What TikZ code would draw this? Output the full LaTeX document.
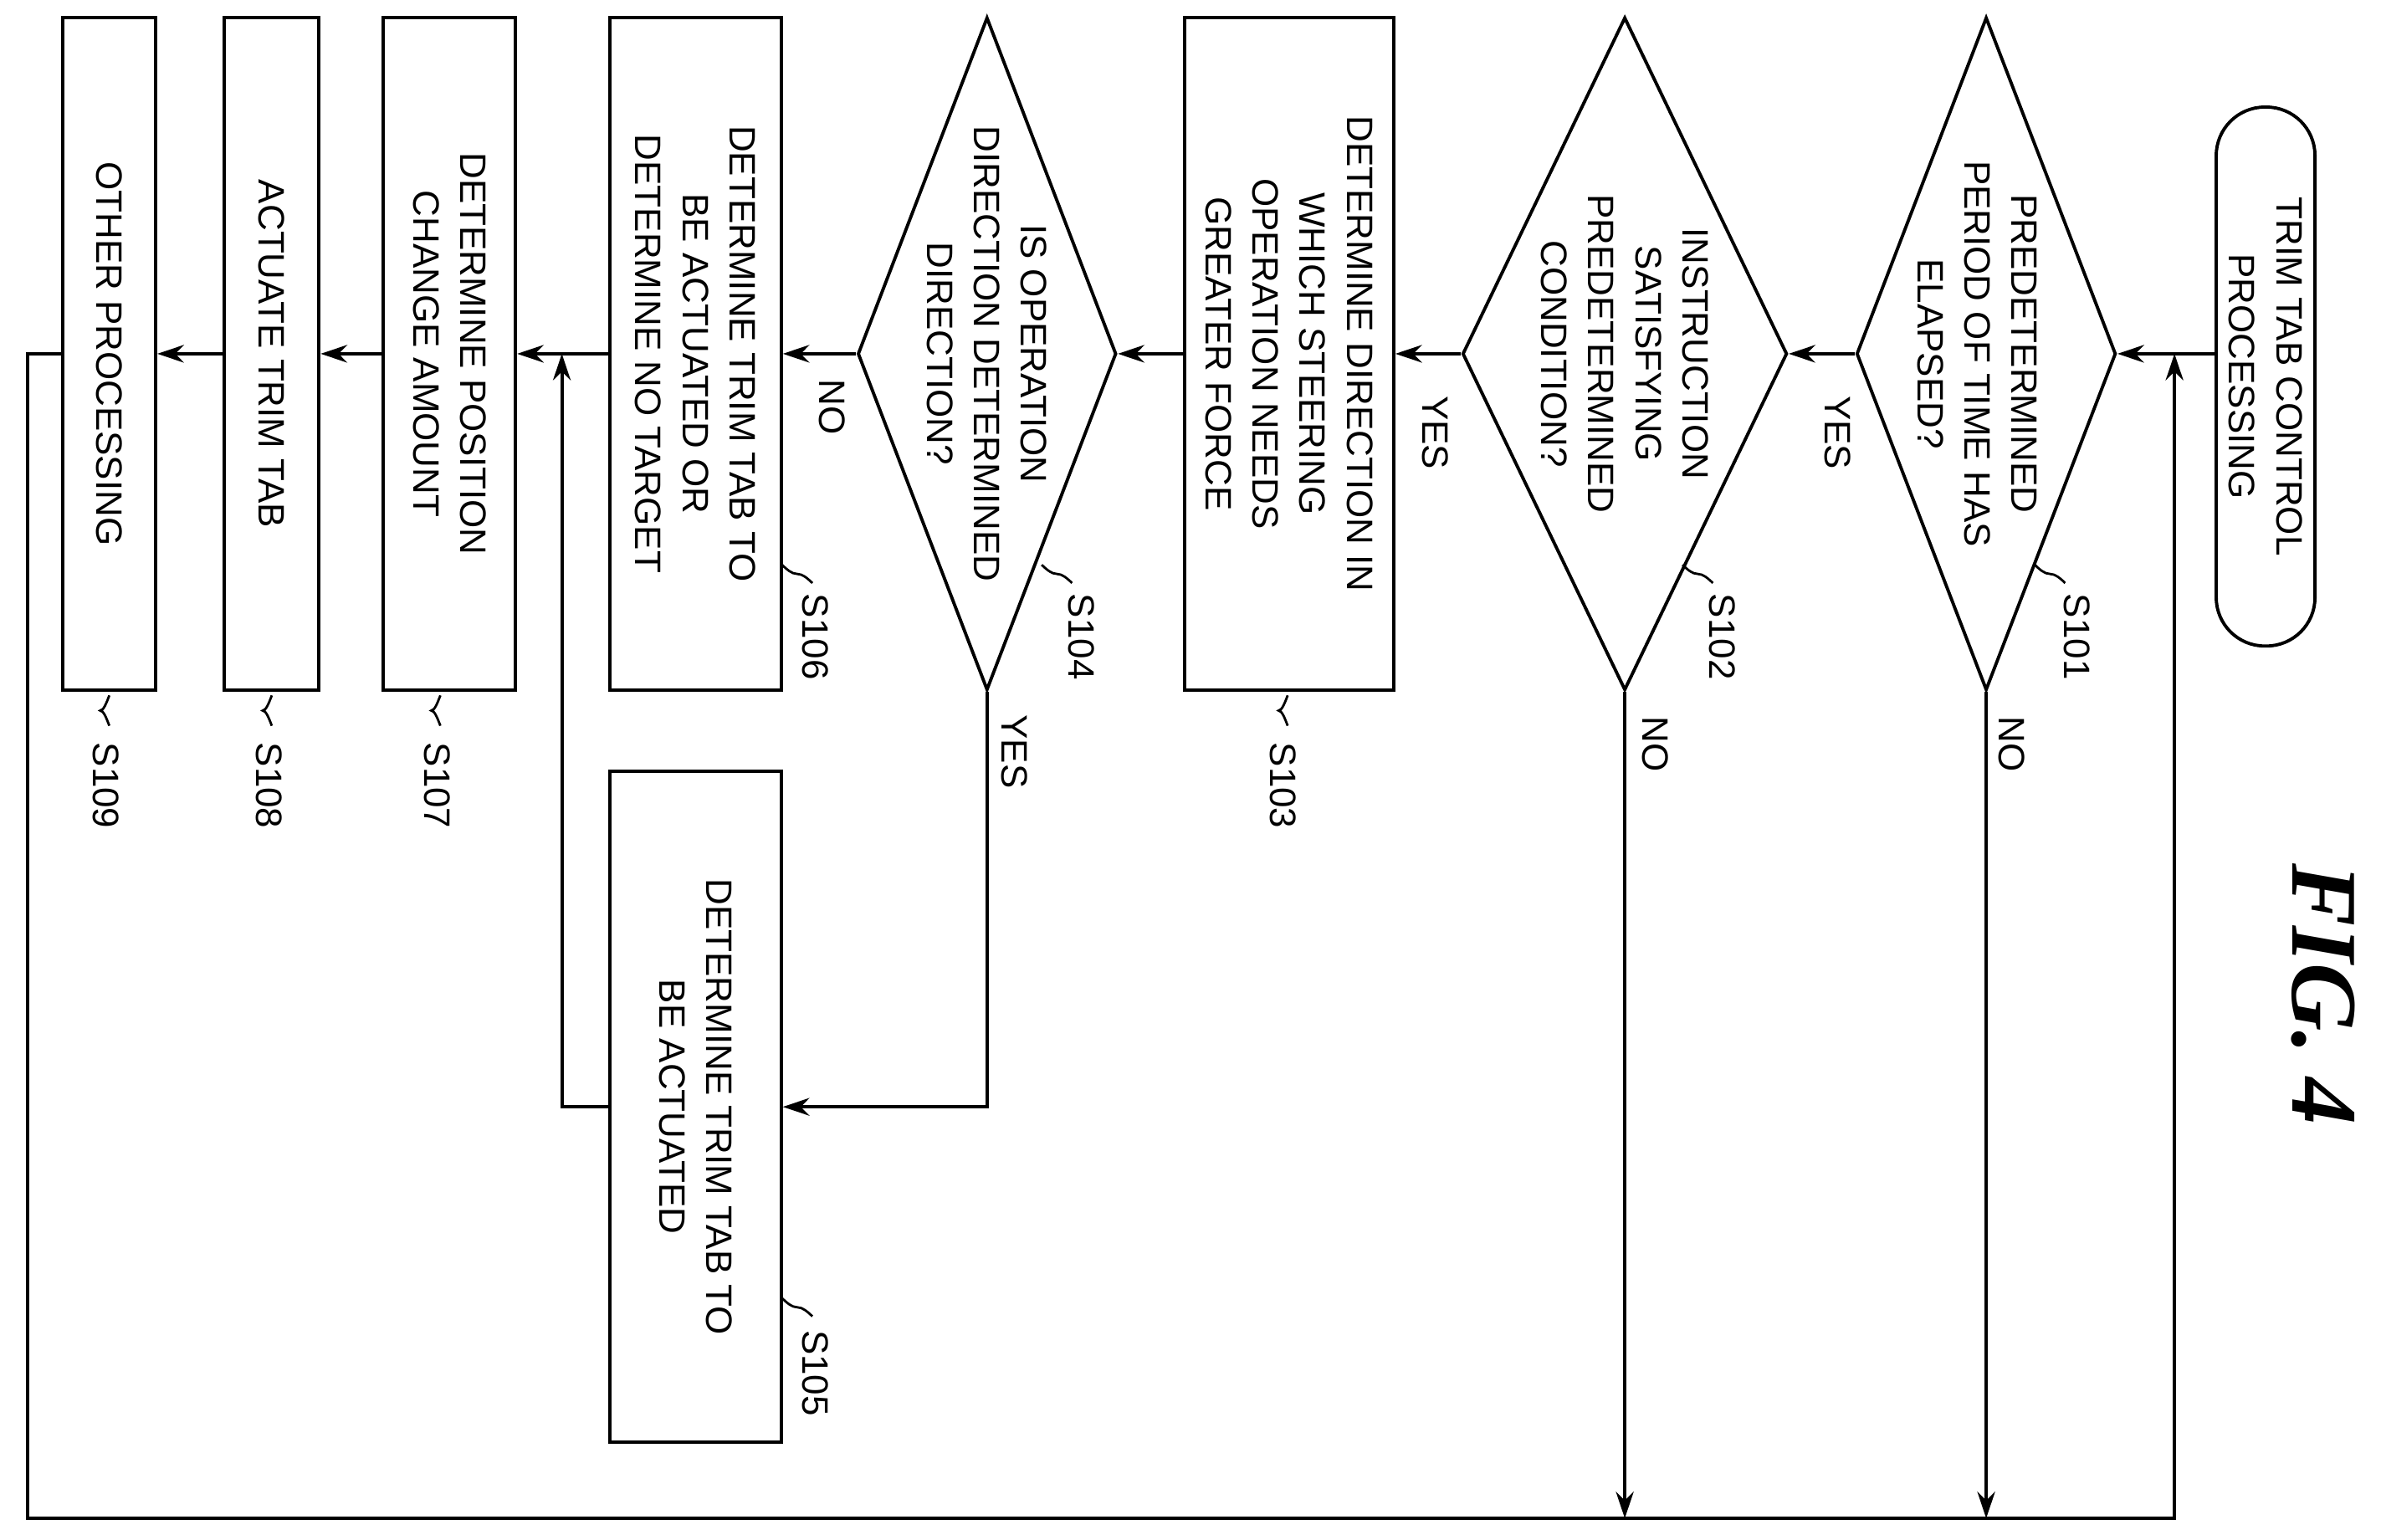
\documentclass[tikz,border=0pt]{standalone}
\usepackage{fontspec}
\setmainfont{Liberation Sans}
\newfontfamily\figfont{Liberation Serif}
\usetikzlibrary{shapes.geometric,arrows.meta}
\begin{document}
\begin{tikzpicture}[x=0.01815cm,y=-0.01815cm,
  line width=1.1pt,
  box/.style={draw,rectangle,inner sep=0pt,minimum height=8.04cm},
  dia/.style={draw,diamond,inner sep=0pt,minimum height=8.04cm},
  txt/.style={rotate=-90,align=center,font=\fontsize{12.5}{16}\selectfont,inner sep=0pt},
  lab/.style={rotate=-90,font=\fontsize{12.5}{15}\selectfont,inner sep=0pt},
  arr/.style={-{Stealth[length=9pt,width=6pt]}},
  lead/.style={line width=0.8pt}]
\useasboundingbox (0,0) rectangle (1568,1014);
% shapes
\node[draw,rectangle,rounded corners=0.58cm,inner sep=0pt,minimum width=1.18cm,minimum height=6.44cm] (start) at (1492,248) {};
\node[txt] at (start) {TRIM TAB CONTROL\\PROCESSING};
\node[dia,minimum width=3.10cm] (d1) at (1308,233) {};
\node[txt] at (1302,233) {PREDETERMINED\\PERIOD OF TIME HAS\\ELAPSED?};
\node[dia,minimum width=3.88cm] (d2) at (1070,233) {};
\node[txt] at (1070,233) {INSTRUCTION\\SATISFYING\\PREDETERMINED\\CONDITION?};
\node[box,minimum width=2.50cm] (s103) at (849,233) {};
\node[txt] at (s103) {DETERMINE DIRECTION IN\\WHICH STEERING\\OPERATION NEEDS\\GREATER FORCE};
\node[dia,minimum width=3.09cm] (d4) at (650,233) {};
\node[txt] at (650,233) {IS OPERATION\\DIRECTION DETERMINED\\DIRECTION?};
\node[box,minimum width=2.05cm] (s106) at (458,233) {};
\node[txt] at (s106) {DETERMINE TRIM TAB TO\\BE ACTUATED OR\\DETERMINE NO TARGET};
\node[box,minimum width=2.05cm,minimum height=8.02cm] (s105) at (458,729) {};
\node[txt] at (s105) {DETERMINE TRIM TAB TO\\BE ACTUATED};
\node[box,minimum width=1.58cm] (s107) at (296,233) {};
\node[txt] at (s107) {DETERMINE POSITION\\CHANGE AMOUNT};
\node[box,minimum width=1.13cm] (s108) at (179,233) {};
\node[txt] at (s108) {ACTUATE TRIM TAB};
\node[box,minimum width=1.11cm] (s109) at (72,233) {};
\node[txt] at (s109) {OTHER PROCESSING};
% coordinates
\coordinate (loopR) at (1432,233);
\coordinate (loopRB) at (1432,1000);
\coordinate (loopLB) at (18,1000);
\coordinate (loopL) at (18,233);
\coordinate (yesC) at (650,729);
\coordinate (s105o) at (370,729);
\coordinate (s105j) at (370,233);
\coordinate (n1) at (1308,1000);
\coordinate (n2) at (1070,1000);
% connectors
\draw[arr] (start.west |- d1.east) -- (d1.east);
\draw[arr] (d1.west) -- (d2.east);
\draw[arr] (d2.west) -- (s103.east);
\draw[arr] (s103.west) -- (d4.east);
\draw[arr] (d4.west) -- (s106.east);
\draw[arr] (s106.west) -- (s107.east);
\draw[arr] (s107.west) -- (s108.east);
\draw[arr] (s108.west) -- (s109.east);
\draw[arr] (d4.south) -- (yesC) -- (s105.east);
\draw[arr] (s105.west) -- (s105o) -- (s105j);
\draw[arr] (d1.south) -- (n1);
\draw[arr] (d2.south) -- (n2);
\draw[arr] (s109.west) -- (loopL) -- (loopLB) -- (loopRB) -- (loopR);
% yes/no labels
\node[lab] at (1210,285) {YES};
\node[lab] at (1325,490) {NO};
\node[lab] at (945,285) {YES};
\node[lab] at (1090,490) {NO};
\node[lab] at (548,268) {NO};
\node[lab] at (668,495) {YES};
% step labels
\draw[lead] (1340,372) sin (1350,378) cos (1360,384);
\node[lab,anchor=west] at (1368,390) {S101};
\draw[lead] (1108,372) sin (1118,378) cos (1128,384);
\node[lab,anchor=west] at (1134,390) {S102};
\draw[lead] (848,458) sin (842,468) cos (848,478);
\node[lab,anchor=west] at (845,488) {S103};
\draw[lead] (686,372) sin (696,378) cos (706,384);
\node[lab,anchor=west] at (712,390) {S104};
\draw[lead] (515,372) sin (525,378) cos (535,384);
\node[lab,anchor=west] at (537,390) {S106};
\draw[lead] (515,855) sin (525,861) cos (535,867);
\node[lab,anchor=west] at (537,875) {S105};
\draw[lead] (290,458) sin (284,468) cos (290,478);
\node[lab,anchor=west] at (288,488) {S107};
\draw[lead] (179,458) sin (173,468) cos (179,478);
\node[lab,anchor=west] at (177,488) {S108};
\draw[lead] (72,458) sin (66,468) cos (72,478);
\node[lab,anchor=west] at (70,488) {S109};
\node[rotate=-90,font=\figfont\bfseries\itshape\fontsize{32}{36}\selectfont] at (1530,655) {FIG. 4};
\end{tikzpicture}
\end{document}
